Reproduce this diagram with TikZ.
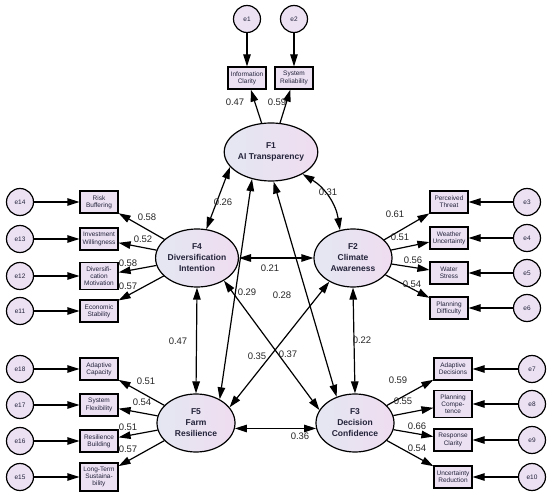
\documentclass[tikz,border=0pt]{standalone}
\usepackage{fontspec}
\setmainfont{Liberation Sans}
\usetikzlibrary{shapes.geometric,arrows.meta,positioning}
\definecolor{lavbox}{HTML}{ECE1F3}
\definecolor{lavleft}{HTML}{E4E7F2}
\definecolor{lavright}{HTML}{EFDCF0}
\definecolor{inktxt}{HTML}{23233A}
\begin{document}
\begin{tikzpicture}[x=1pt, y=-1pt,
  every node/.style={font=\fontsize{6.5}{7.3}\selectfont, text=inktxt},
  lat/.style ={ellipse, draw, line width=1.2pt, left color=lavleft, right color=lavright,
               minimum width=78pt, minimum height=58pt, inner sep=0pt, align=center,
               font=\fontsize{8.5}{11}\selectfont\bfseries},
  ind/.style ={rectangle, draw, line width=1.2pt, fill=lavbox, minimum width=38pt,
               minimum height=22pt, text width=37pt, inner sep=0.5pt, align=center},
  err/.style ={circle, draw, line width=1.2pt, fill=lavbox, minimum size=27pt, inner sep=0pt},
  la/.style  ={-{Triangle[length=12pt,width=7.5pt]}, line width=1.2pt},
  ca/.style  ={{Triangle[length=12pt,width=7.5pt]}-{Triangle[length=12pt,width=7.5pt]}, line width=1.2pt},
  cf/.style  ={font=\fontsize{9.5}{11}\selectfont, text=black!85},
]
\useasboundingbox (0,0) rectangle (550,497);

%% ─── Latent factors ──────────────────────────────────────────────────────────
\node[lat] (F1) at (271,152) {F1\\AI Transparency};
\node[lat] (F4) at (197,258) {F4\\Diversification\\Intention};
\node[lat] (F2) at (353,258) {F2\\Climate\\Awareness};
\node[lat] (F5) at (196,423) {F5\\Farm\\Resilience};
\node[lat] (F3) at (355,423) {F3\\Decision\\Confidence};

%% ─── F1 indicators (top) ─────────────────────────────────────────────────────
\foreach \n/\e/\x/\t in {InfC/e1/247/{Information\\Clarity}, SysR/e2/294/{System\\Reliability}} {
  \node[ind] (\n) at (\x,78) {\t};
  \node[err] (\e) at (\x,19) {\e};
  \draw[la] (\e) -- (\n);
  \draw[la] (F1) -- (\n);
}

%% ─── F4 indicators (left, upper) ─────────────────────────────────────────────
\foreach \n/\e/\y/\h/\t in {RBuf/e14/202/22/{Risk\\Buffering}, IWil/e13/239/22/{Investment\\Willingness},
                            DMot/e12/276/27/{Diversifi-\\cation\\Motivation}, EStab/e11/311/22/{Economic\\Stability}} {
  \node[ind, minimum height=\h] (\n) at (99,\y) {\t};
  \node[err] (\e) at (20,\y) {\e};
  \draw[la] (\e) -- (\n);
  \draw[la] (F4) -- (\n);
}

%% ─── F2 indicators (right, upper) ────────────────────────────────────────────
\foreach \n/\e/\y/\t in {PThr/e3/202/{Perceived\\Threat}, WUnc/e4/238/{Weather\\Uncertainty},
                         WStr/e5/273/{Water\\Stress}, PDif/e6/308/{Planning\\Difficulty}} {
  \node[ind] (\n) at (449,\y) {\t};
  \node[err] (\e) at (527,\y) {\e};
  \draw[la] (\e) -- (\n);
  \draw[la] (F2) -- (\n);
}

%% ─── F5 indicators (left, lower) ─────────────────────────────────────────────
\foreach \n/\e/\y/\h/\t in {ACap/e18/369/22/{Adaptive\\Capacity}, SFlex/e17/405/22/{System\\Flexibility},
                            RBld/e16/441/22/{Resilience\\Building}, LTS/e15/477/28/{Long-Term\\Sustaina-\\bility}} {
  \node[ind, minimum height=\h] (\n) at (99,\y) {\t};
  \node[err] (\e) at (20,\y) {\e};
  \draw[la] (\e) -- (\n);
  \draw[la] (F5) -- (\n);
}

%% ─── F3 indicators (right, lower) ────────────────────────────────────────────
\foreach \n/\e/\y/\h/\t in {ADec/e7/369/22/{Adaptive\\Decisions}, PComp/e8/404/27/{Planning\\Compe-\\tence},
                            RCla/e9/440/22/{Response\\Clarity}, URed/e10/477/22/{Uncertainty\\Reduction}} {
  \node[ind, minimum height=\h] (\n) at (453,\y) {\t};
  \node[err] (\e) at (532,\y) {\e};
  \draw[la] (\e) -- (\n);
  \draw[la] (F3) -- (\n);
}

%% ─── Factor covariances ──────────────────────────────────────────────────────
\draw[ca] (F1.200) -- (F4.72);
\draw[ca] (F1.325) to[bend left=25] (F2.115);
\draw[ca] (F1.235) -- (F5.45);
\draw[ca] (F1.275) -- (F3.125);
\draw[ca] (F4.east) -- (F2.west);
\draw[ca] (F4.south) -- (F5.north);
\draw[ca] (F4.-40) -- (F3.160);
\draw[ca] (F2.225) -- (F5.25);
\draw[ca] (F2.south) -- (F3.north);
\draw[ca] (F5.-8) -- (F3.188);

%% ─── Coefficients ────────────────────────────────────────────────────────────
\foreach \n/\x/\y/\v in {c14/223/202/0.26, c12/328/192/0.31, c42/270/268/0.21, c15/247/292/0.29,
                         c13/282/295/0.28, c45/178/341/0.47, c25/257/356/0.35, c43/288/354/0.37,
                         c23/362/340/0.22, c53/300/436/0.36} {
  \node[cf] (\n) at (\x,\y) {\v};
}
\foreach \n/\x/\y/\v in {lInfC/235/102/0.47, lSysR/277/102/0.59,
                         lRBuf/147/217/0.58, lIWil/143/239/0.52, lDMot/128/263/0.58, lEStab/128/286/0.57,
                         lPThr/395/214/0.61, lWUnc/400/237/0.51, lWStr/413/260/0.56, lPDif/412/284/0.54,
                         lACap/146/381/0.51, lSFlex/142/402/0.54, lRBld/128/427/0.51, lLTS/128/449/0.57,
                         lADec/398/380/0.59, lPComp/403/401/0.55, lRCla/417/426/0.66, lURed/417/448/0.54} {
  \node[cf] (\n) at (\x,\y) {\v};
}

\end{tikzpicture}
\end{document}
